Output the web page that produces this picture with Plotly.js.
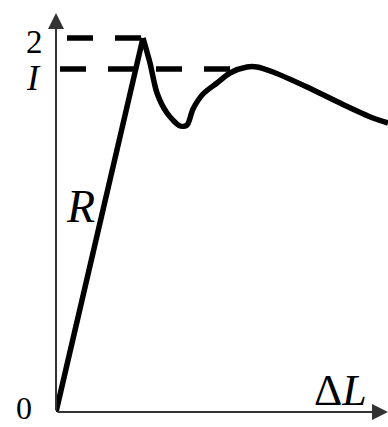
<!DOCTYPE html>
<html>
<head>
<meta charset="utf-8">
<script src="https://cdn.plot.ly/plotly-3.0.1.min.js"></script>
<style>
  html, body { margin: 0; padding: 0; background: #ffffff; }
  #chart { width: 388px; height: 427px; }
</style>
</head>
<body>
<div id="chart"></div>
<script>
// Load–elongation curve (arbitrary units)
const riseX = [0, 87];
const riseY = [0, 374];

const curveX = [87, 94, 101, 111, 124, 131, 137, 147, 161, 174, 191, 201, 217, 251, 284, 317, 332];
const curveY = [374, 349, 319, 299, 286, 287, 303, 318, 329, 339, 345, 345, 340, 325, 309, 294, 289];

// Dashed reference levels: upper (2) and lower (1) yield points
const levelNames = ['2', 'I'];
const levelY = [374, 343];
const levelStart = [11, 4];
const levelEnd = [87, 195];

const axisMax = { x: 332, y: 399 };

const traces = [
  {
    x: riseX, y: riseY,
    mode: 'lines',
    line: { color: '#000000', width: 5.5 },
    hoverinfo: 'skip',
  },
  {
    x: curveX, y: curveY,
    mode: 'lines',
    line: { color: '#000000', width: 5.5, shape: 'spline', smoothing: 0.8 },
    hoverinfo: 'skip',
  },
];

levelY.forEach((yv, i) => {
  traces.push({
    x: [levelStart[i], levelEnd[i]],
    y: [yv, yv],
    mode: 'lines',
    line: { color: '#000000', width: 5.5, dash: '26px,22px' },
    hoverinfo: 'skip',
  });
});

const serif = 'Liberation Serif, Times New Roman, serif';
// paper position of a data point (labels outside the plot area)
const px = (v) => v / axisMax.x;
const py = (v) => v / axisMax.y;

const label = (x, y, text, size) => ({
  xref: 'paper', yref: 'paper', x: px(x), y: py(y),
  xanchor: 'center', yanchor: 'middle',
  text, showarrow: false, borderpad: 0,
  font: { family: serif, size, color: '#000' },
});

const annotations = [
  // axes with arrows
  {
    x: axisMax.x, y: 0, ax: 0, ay: 0, xref: 'x', yref: 'y', axref: 'x', ayref: 'y',
    showarrow: true, arrowhead: 2, arrowsize: 1.6, arrowwidth: 2, arrowcolor: '#333333',
    standoff: 0, text: '',
  },
  {
    x: 0, y: axisMax.y, ax: 0, ay: 0, xref: 'x', yref: 'y', axref: 'x', ayref: 'y',
    showarrow: true, arrowhead: 2, arrowsize: 1.6, arrowwidth: 2, arrowcolor: '#333333',
    standoff: 0, text: '',
  },
  label(-32, 4, '0', 32),
  label(-22, levelY[0] - 4, levelNames[0], 33),
  label(-23, levelY[1] - 9, '<i>' + levelNames[1] + '</i>', 36),
  label(24, 206, '<i>R</i>', 46),
  label(284, 22, 'Δ<i>L</i>', 44),
];

const layout = {
  width: 388,
  height: 427,
  margin: { l: 56, r: 0, t: 13, b: 15 },
  paper_bgcolor: '#ffffff',
  plot_bgcolor: '#ffffff',
  showlegend: false,
  xaxis: {
    range: [0, axisMax.x], showgrid: false, zeroline: false,
    showticklabels: false, ticks: '', showline: false, fixedrange: true,
  },
  yaxis: {
    range: [0, axisMax.y], showgrid: false, zeroline: false,
    showticklabels: false, ticks: '', showline: false, fixedrange: true,
  },
  annotations,
};

Plotly.newPlot('chart', traces, layout, { displayModeBar: false, staticPlot: true });
</script>
</body>
</html>
